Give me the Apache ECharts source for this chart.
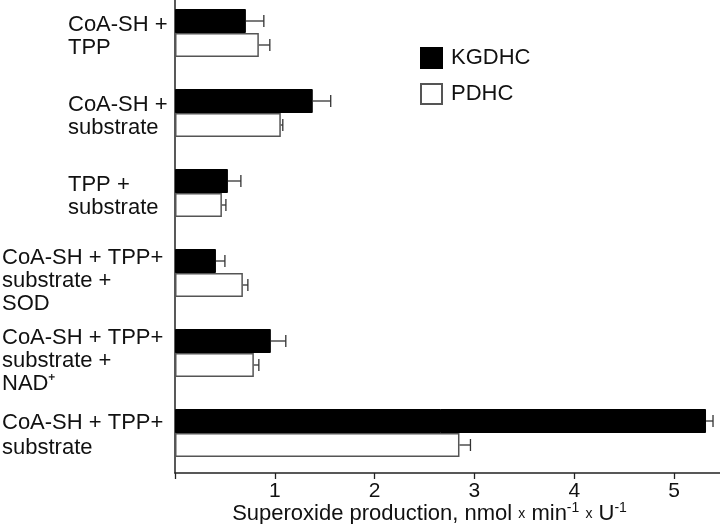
<!DOCTYPE html>
<html>
<head>
<meta charset="utf-8">
<script src="https://cdn.jsdelivr.net/npm/echarts@6/dist/echarts.min.js"></script>
<style>html,body{margin:0;padding:0;background:#fff}#c{width:720px;height:524px}</style>
</head>
<body>
<div id="c"></div>
<script>
var categories = [
  'CoA-SH +\nTPP',
  'CoA-SH +\nsubstrate',
  'TPP +\nsubstrate',
  'CoA-SH + TPP+\nsubstrate +\nSOD',
  'CoA-SH + TPP+\nsubstrate +\nNAD\u207A',
  'CoA-SH + TPP+\nsubstrate'
];
var seriesNames = ['KGDHC', 'PDHC'];
var kgdhc = [0.71, 1.38, 0.53, 0.41, 0.96, 5.32];
var kgdhcErr = [0.18, 0.18, 0.13, 0.09, 0.15, 0.07];
var pdhc = [0.84, 1.06, 0.47, 0.68, 0.79, 2.85];
var pdhcErr = [0.11, 0.02, 0.04, 0.05, 0.05, 0.11];
var xTicks = [1, 2, 3, 4, 5];

var FONT = 'Liberation Sans, Arial, sans-serif';
var BARW = 24;

function errSeries(vals, errs, offset) {
  return {
    type: 'custom',
    silent: true,
    z: 5,
    data: vals.map(function (v, i) { return [v, i, errs[i]]; }),
    renderItem: function (params, api) {
      var v = api.value(0), i = api.value(1), e = api.value(2);
      var p0 = api.coord([v, i]);
      var p1 = api.coord([v + e, i]);
      var y = p0[1] + offset;
      var cap = 6;
      return {
        type: 'group',
        children: [
          { type: 'line', shape: { x1: p0[0], y1: y, x2: p1[0], y2: y }, style: { stroke: '#333', lineWidth: 1.3 } },
          { type: 'line', shape: { x1: p1[0], y1: y - cap, x2: p1[0], y2: y + cap }, style: { stroke: '#333', lineWidth: 1.3 } }
        ]
      };
    }
  };
}

var chart = echarts.init(document.getElementById('c'));
chart.setOption({
  animation: false,
  backgroundColor: '#fff',
  textStyle: { fontFamily: FONT },
  grid: { left: 175, right: 0, top: -7, bottom: 51, containLabel: false, outerBoundsMode: 'none' },
  legend: {
    data: seriesNames,
    orient: 'vertical',
    left: 420,
    top: 47,
    padding: 0,
    itemWidth: 21,
    itemHeight: 20,
    itemGap: 14,
    icon: 'rect',
    textStyle: { fontSize: 22, color: '#111', fontFamily: FONT, padding: [0, 0, 0, 4] }
  },
  xAxis: {
    type: 'value',
    min: 0,
    max: 5.46,
    interval: 1,
    splitLine: { show: false },
    axisLine: { show: true, lineStyle: { color: '#222', width: 1.5 } },
    axisTick: { show: true, length: 6, lineStyle: { color: '#222', width: 1.3 } },
    axisLabel: {
      showMaxLabel: false,
      margin: 8,
      fontSize: 21,
      color: '#111',
      fontFamily: FONT,
      formatter: function (v) { return xTicks.indexOf(v) >= 0 ? String(v) : ''; }
    },
    name: 'Superoxide production, nmol {s|x} min{sup|-1} {s|x} U{sup|-1}',
    nameLocation: 'middle',
    nameGap: 28,
    nameMoveOverlap: false,
    nameTextStyle: {
      fontSize: 22,
      color: '#111',
      fontFamily: FONT,
      padding: [0, 36, 0, 0],
      rich: {
        s: { fontSize: 14, color: '#111', fontFamily: FONT },
        sup: { fontSize: 14, color: '#111', fontFamily: FONT, verticalAlign: 'top', padding: [0, 0, 12, 0] }
      }
    }
  },
  yAxis: {
    type: 'category',
    data: categories,
    inverse: true,
    axisLine: { show: true, lineStyle: { color: '#222', width: 1.5 } },
    axisTick: { show: false },
    axisLabel: {
      align: 'left',
      margin: 173,
      fontSize: 22,
      lineHeight: 23,
      color: '#111',
      fontFamily: FONT,
      formatter: function (v, idx) {
        var lines = v.split('\n');
        if (idx < 3) {
          return '{sp6| }\n' + lines.map(function (l) { return '{t|' + l + '}'; }).join('\n');
        }
        if (lines.length === 3) {
          return '{sp16| }\n' + lines.map(function (l) { return '{b|' + l + '}'; }).join('\n');
        }
        return '{sp5| }\n' + lines.map(function (l) { return '{b2|' + l + '}'; }).join('\n');
      },
      rich: {
        t: { fontSize: 22, lineHeight: 23, color: '#111', fontFamily: FONT, padding: [0, 0, 0, 66] },
        b: { fontSize: 22, lineHeight: 23, color: '#111', fontFamily: FONT },
        b2: { fontSize: 22, lineHeight: 25, color: '#111', fontFamily: FONT },
        sp6: { fontSize: 1, lineHeight: 6 },
        sp5: { fontSize: 1, lineHeight: 5 },
        sp16: { fontSize: 1, lineHeight: 16 }
      }
    }
  },
  series: [
    {
      name: 'KGDHC',
      type: 'bar',
      data: kgdhc,
      barWidth: BARW,
      barGap: '0%',
      itemStyle: { color: '#000', borderColor: '#000', borderWidth: 1 }
    },
    {
      name: 'PDHC',
      type: 'bar',
      data: pdhc,
      barWidth: BARW,
      barGap: '0%',
      itemStyle: { color: '#fff', borderColor: '#555', borderWidth: 1.5 }
    },
    errSeries(kgdhc, kgdhcErr, -BARW / 2),
    errSeries(pdhc, pdhcErr, BARW / 2)
  ]
});
</script>
</body>
</html>
